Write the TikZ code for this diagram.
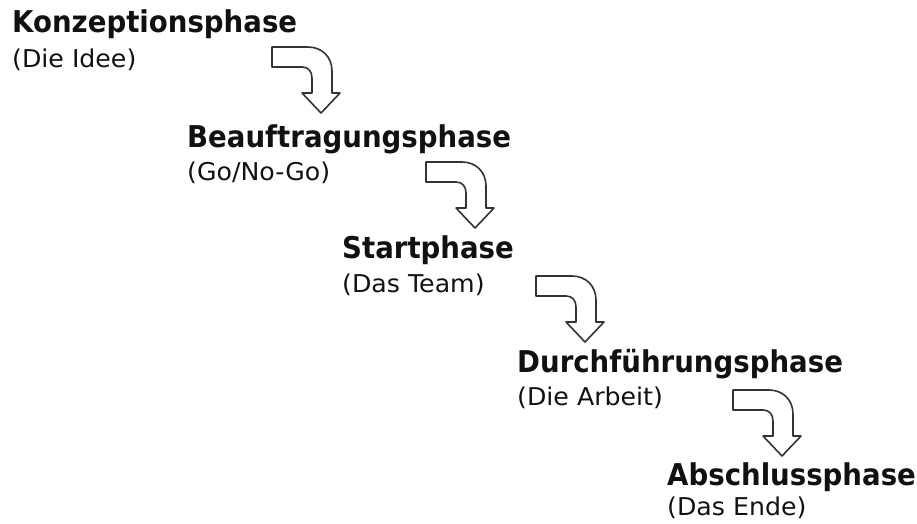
\documentclass[tikz,border=0pt]{standalone}
\usepackage{fontspec}
\newfontfamily\titlefont{DejaVu Sans}[FakeStretch=0.92]
\newfontfamily\subfont{DejaVu Sans}[FakeStretch=1.03]
\definecolor{txt}{HTML}{111111}
\definecolor{arrowc}{HTML}{333333}
\tikzset{
  phase/.style={anchor=base west, inner sep=0pt, text=txt, font=\titlefont\bfseries\fontsize{30}{30}\selectfont},
  note/.style={anchor=base west, inner sep=0pt, text=txt, font=\subfont\fontsize{24.5}{24.5}\selectfont},
  arrowline/.style={draw=arrowc, line width=1.6pt, fill=white, line join=round},
  bentarrow/.pic={
    \draw[arrowline] (0,0) -- (36,0) .. controls (50,0) and (60,10) .. (60,24) -- (60,46) -- (68,46) -- (49,66) -- (30,46) -- (40,46) -- (40,31) .. controls (40,24) and (36,20) .. (30,20) -- (0,20) -- cycle;
  }
}
\begin{document}
\begin{tikzpicture}[x=1pt, y=-1pt]
\useasboundingbox (0,0) rectangle (917,523);
\node[phase] (p1) at (12,32) {Konzeptionsphase};
\node[note]  (n1) at (12,67) {(Die Idee)};
\node[phase] (p2) at (187,147) {Beauftragungsphase};
\node[note]  (n2) at (187,180) {(Go/No-Go)};
\node[phase] (p3) at (342,258) {Startphase};
\node[note]  (n3) at (342,292) {(Das Team)};
\node[phase] (p4) at (517,372) {Durchführungsphase};
\node[note]  (n4) at (517,405) {(Die Arbeit)};
\node[phase] (p5) at (667,485) {Abschlussphase};
\node[note]  (n5) at (667,515) {(Das Ende)};
\pic at (272,47) {bentarrow};
\pic at (426,162) {bentarrow};
\pic at (536,276) {bentarrow};
\pic at (733,390) {bentarrow};
\end{tikzpicture}
\end{document}
